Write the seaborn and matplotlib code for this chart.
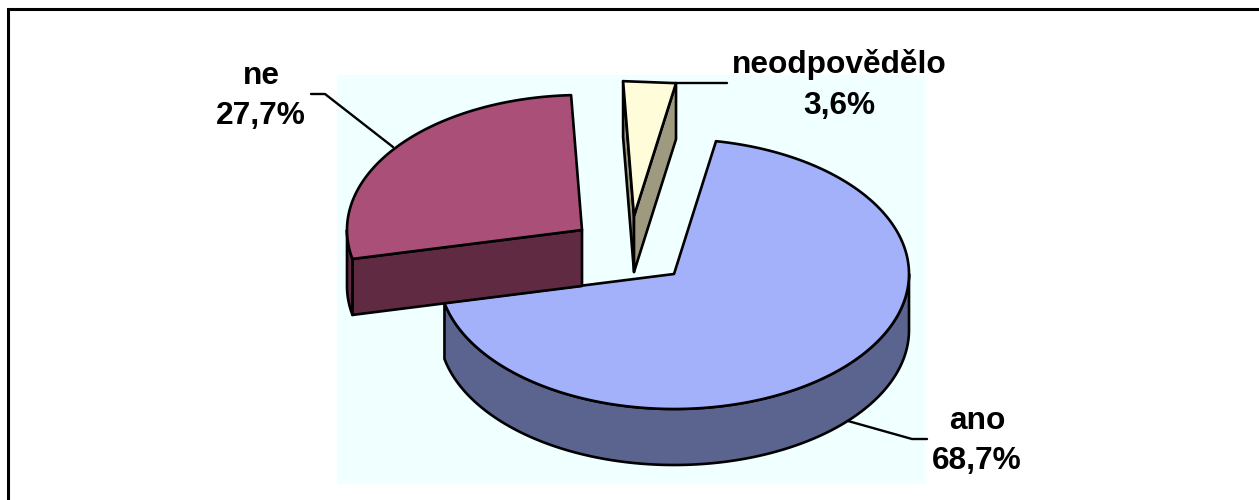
import numpy as np
import pandas as pd
import matplotlib.pyplot as plt
import seaborn as sns

# data
labels = ['ano', 'ne', 'neodpovědělo']
shares = [68.7, 27.7, 3.6]

# colours: top face, side wall
top_colors = ['#A3B1FB', '#AA5078', '#FFFCD9']
side_colors = ['#5A648F', '#602A42', '#9E9A80']
back_color = '#F0FFFF'

# layout in pixels
centers = [(674, 274), (582, 230), (634, 216)]
label_pos = [(977, 441), (261, 96), (839, 85)]
leaders = [
    [(848, 421), (912, 439), (927, 439)],
    [(393, 147), (325, 94), (311, 94)],
    [(675, 83), (727, 83)],
]
rx, ry, depth = 235, 135, 56
start_angle = 79.7

sns.set_theme(style='white')
plt.rcParams['font.family'] = ['Liberation Sans', 'DejaVu Sans']

df = pd.DataFrame({'label': labels, 'share': shares, 'top': top_colors, 'side': side_colors})
df['sweep'] = df['share'] / df['share'].sum() * 360
df['t0'] = start_angle - df['sweep'].cumsum().shift(fill_value=0)
df['t1'] = df['t0'] - df['sweep']


def rim(cx, cy, t0, t1, dz=0, n=200):
    t = np.radians(np.linspace(t0, t1, n))
    return cx + rx * np.cos(t), cy - ry * np.sin(t) + dz


fig = plt.figure(figsize=(12.59, 5), dpi=100)
ax = fig.add_axes([0, 0, 1, 1])
ax.set_xlim(0, 1259)
ax.set_ylim(500, 0)
ax.set_axis_off()

# plot area and frame (only top and left edges are in the picture)
ax.fill([337, 925, 925, 337], [75, 75, 484, 484], facecolor=back_color, edgecolor='none')
ax.plot([8, 8, 1259], [500, 9, 9], color='black', linewidth=2.2, solid_joinstyle='miter')

style = dict(edgecolor='black', linewidth=1.9, joinstyle='round')
for (cx, cy), row in zip(centers, df.itertuples()):
    # cut faces that look towards the viewer
    for t, visible in ((row.t0, np.cos(np.radians(row.t0)) < 0),
                       (row.t1, np.cos(np.radians(row.t1)) > 0)):
        if visible:
            ex, ey = rim(cx, cy, t, t, n=1)
            ax.fill([cx, ex[0], ex[0], cx], [cy, ey[0], ey[0] + depth, cy + depth],
                    facecolor=row.side, **style)
    # outer wall, only the lower half of the rim can be seen
    lo, hi = row.t1 % 360, row.t0 % 360
    if lo > hi:
        hi += 360
    a, b = max(lo, 180), min(hi, 360)
    if a < b:
        x, y = rim(cx, cy, a, b)
        x2, y2 = rim(cx, cy, b, a, depth)
        ax.fill(np.r_[x, x2], np.r_[y, y2], facecolor=row.side, **style)
    # top face, the narrow slice has a straight outer edge in the chart
    x, y = rim(cx, cy, row.t0, row.t1, n=2 if row.sweep < 15 else 200)
    ax.fill(np.r_[cx, x], np.r_[cy, y], facecolor=row.top, **style)

for pts in leaders:
    xs, ys = zip(*pts)
    ax.plot(xs, ys, color='black', linewidth=1.7)

for (x, y), row in zip(label_pos, df.itertuples()):
    pct = f'{row.share:.1f}'.replace('.', ',')
    ax.text(x, y, f'{row.label}\n{pct}%', ha='center', va='center', fontsize=22.8,
            fontweight='bold', color='black', linespacing=1.45)

plt.savefig('out.png', dpi=100)
